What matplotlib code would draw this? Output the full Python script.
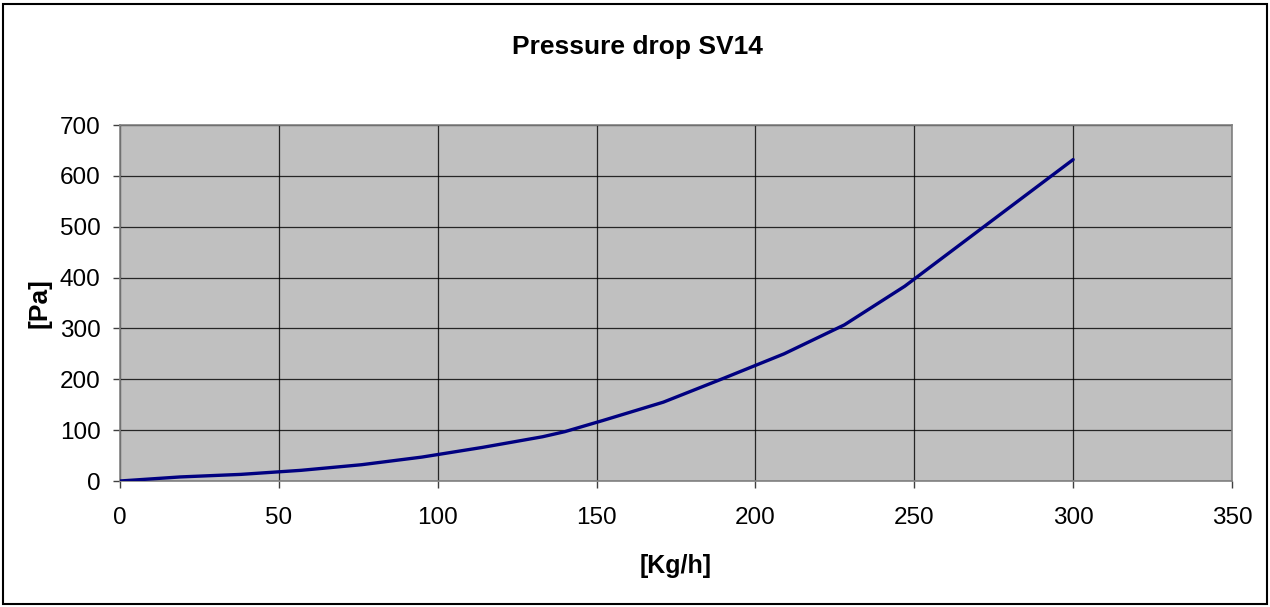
import matplotlib
matplotlib.use("Agg")
import matplotlib.pyplot as plt
from matplotlib.patches import Rectangle

# Datos
flow = [0, 19, 38, 57, 76, 95, 114, 133, 140, 152, 171, 190, 209, 228, 247, 300]
dp = [0, 8, 13, 21, 32, 47, 66, 87, 97, 119, 155, 202, 250, 307, 383, 632]

x_ticks = [0, 50, 100, 150, 200, 250, 300, 350]
y_ticks = [0, 100, 200, 300, 400, 500, 600, 700]

plt.rcParams['font.family'] = ['Liberation Sans', 'DejaVu Sans']

fig = plt.figure(figsize=(12.7, 6.07), dpi=100)
ax = fig.add_axes([120 / 1270, 1 - 481 / 607, (1232 - 120) / 1270, (481 - 125) / 607])

ax.set_facecolor("#c0c0c0")
ax.plot(flow, dp, color="#000080", lw=2.4, solid_capstyle="round", zorder=3)

ax.set_xlim(0, 350)
ax.set_ylim(0, 700)
ax.set_xticks(x_ticks)
ax.set_yticks(y_ticks)
ax.grid(True, color="black", lw=0.9, alpha=0.8)
ax.set_axisbelow(True)
for s in ax.spines.values():
    s.set_color("#808080")
    s.set_linewidth(1.2)
ax.tick_params(direction="out", length=5, width=1, color="#404040",
               labelsize=17.5)
ax.tick_params(axis="x", pad=14)
ax.tick_params(axis="y", pad=9)

ax.set_xlabel("[Kg/h]", fontsize=18, fontweight="bold", labelpad=18)
ax.set_ylabel("[Pa]", fontsize=19, fontweight="bold", labelpad=6)
fig.text(0.502, 1 - 47 / 607, "Pressure drop SV14", fontsize=19,
         fontweight="bold", ha="center", va="center")

fig.patches.append(Rectangle((3 / 1270, 3 / 607), 1 - 6 / 1270, 1 - 7 / 607,
                             transform=fig.transFigure, fill=False,
                             edgecolor="black", lw=1.5))

fig.savefig("out.png", dpi=100)
